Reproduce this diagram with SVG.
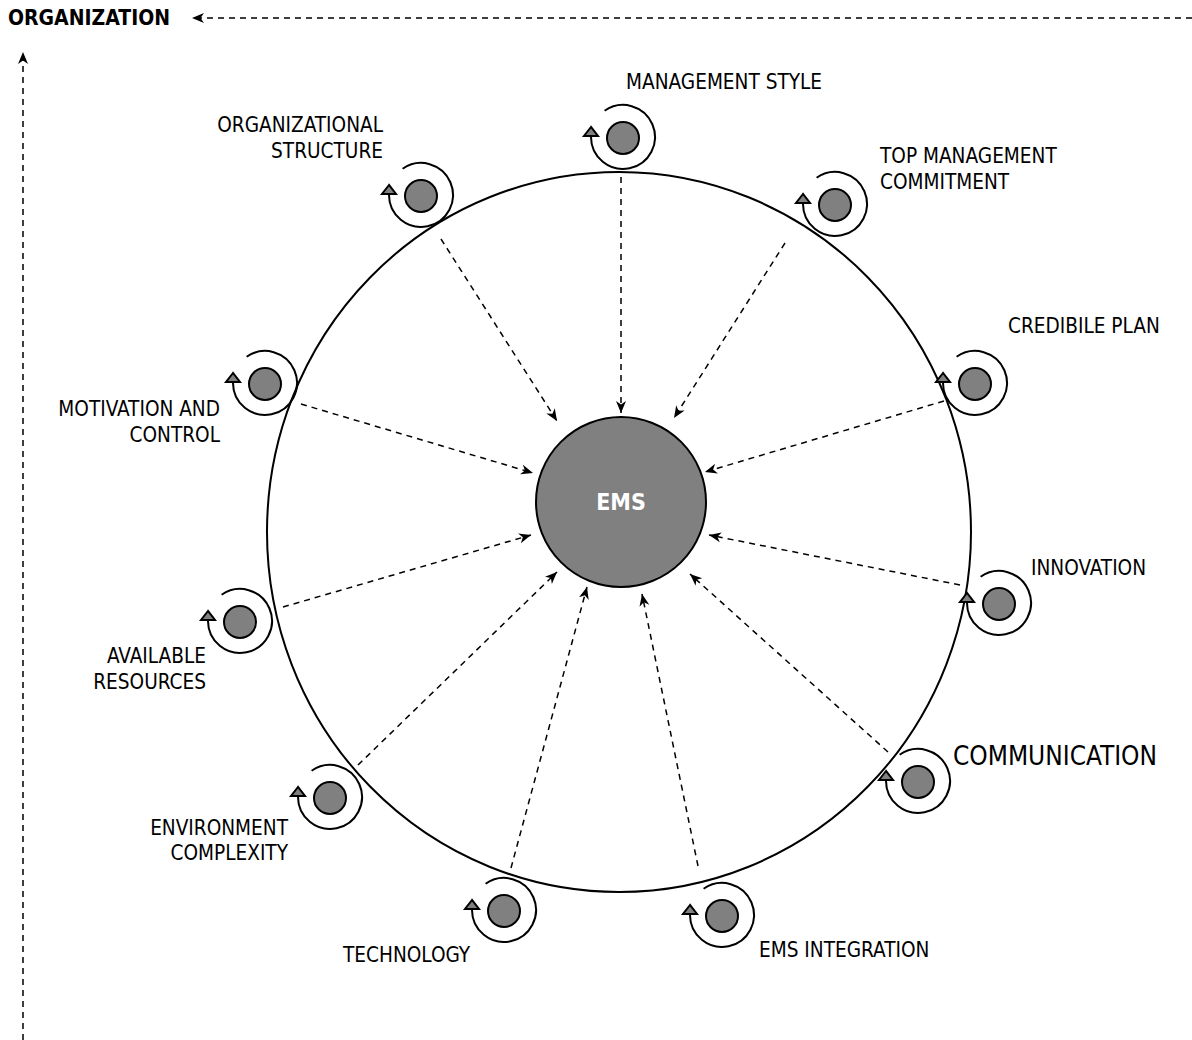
<svg xmlns="http://www.w3.org/2000/svg" xmlns:xlink="http://www.w3.org/1999/xlink" width="1192" height="1040" viewBox="0 0 1192 1040">
<style>
.lbl{font-family:"DejaVu Sans Condensed","DejaVu Sans",sans-serif;font-stretch:condensed;font-size:20.6px;fill:#000}
.big{font-size:26px}
.bold{font-weight:bold}
.org{font-size:21px}
.dash{fill:none;stroke:#000;stroke-width:1.5;stroke-dasharray:6 5}
.ring{fill:none;stroke:#000;stroke-width:2}
.dot{fill:#808080;stroke:#000;stroke-width:2}
</style>
<defs>
<marker id="ah" markerUnits="userSpaceOnUse" markerWidth="13" markerHeight="12" refX="12" refY="6" orient="auto">
<path d="M0,1 L12,6 L0,11 L3.5,6 Z" fill="#000"/>
</marker>
<g id="icon">
<path class="ring" d="M-18.4,-27.2 A32,32 0 1 1 -32,-1"/>
<path class="dot" d="M-32,-11 L-39,-2 L-25,-2 Z" stroke-width="1.5"/>
<circle class="dot" cx="0" cy="0" r="16"/>
</g>
</defs>
<rect width="1192" height="1040" fill="#fff"/>
<ellipse cx="619" cy="532" rx="352" ry="360" fill="none" stroke="#000" stroke-width="2"/>
<g id="connectors">
<path class="dash" d="M1192,18 L192,18" marker-end="url(#ah)"/>
<path class="dash" d="M23,1040 L23,52" marker-end="url(#ah)"/>
<path class="dash" d="M621,177 L621,413" marker-end="url(#ah)"/>
<path class="dash" d="M441,239 L557,421" marker-end="url(#ah)"/>
<path class="dash" d="M785,243 L674,418" marker-end="url(#ah)"/>
<path class="dash" d="M944,401 L705,472" marker-end="url(#ah)"/>
<path class="dash" d="M960,585 L709,535" marker-end="url(#ah)"/>
<path class="dash" d="M888,752 L690,574" marker-end="url(#ah)"/>
<path class="dash" d="M698,866 L642,594" marker-end="url(#ah)"/>
<path class="dash" d="M511,868 L587,587" marker-end="url(#ah)"/>
<path class="dash" d="M358,765 L557,572" marker-end="url(#ah)"/>
<path class="dash" d="M283,607 L531,535" marker-end="url(#ah)"/>
<path class="dash" d="M301,404 L533,473" marker-end="url(#ah)"/>
</g>
<g id="organization"><text class="lbl bold org" x="8" y="25">ORGANIZATION</text></g>
<g id="ems">
<circle class="dot" cx="621" cy="502" r="85"/>
<text class="lbl bold" x="621" y="510" text-anchor="middle" style="fill:#fff;font-size:23px">EMS</text>
</g>
<g id="management-style"><use xlink:href="#icon" x="623" y="138"/><text class="lbl" x="626" y="89">MANAGEMENT STYLE</text></g>
<g id="organizational-structure"><use xlink:href="#icon" x="421" y="196"/><text class="lbl" text-anchor="end" x="383" y="132">ORGANIZATIONAL</text><text class="lbl" text-anchor="end" x="383" y="158">STRUCTURE</text></g>
<g id="top-management"><use xlink:href="#icon" x="835" y="205"/><text class="lbl" x="880" y="163">TOP MANAGEMENT</text><text class="lbl" x="880" y="189">COMMITMENT</text></g>
<g id="credibile-plan"><use xlink:href="#icon" x="975" y="384"/><text class="lbl" x="1008" y="333">CREDIBILE PLAN</text></g>
<g id="innovation"><use xlink:href="#icon" x="999" y="604"/><text class="lbl" x="1031" y="575">INNOVATION</text></g>
<g id="communication"><use xlink:href="#icon" x="918" y="782"/><text class="lbl big" x="953" y="765">COMMUNICATION</text></g>
<g id="ems-integration"><use xlink:href="#icon" x="722" y="916"/><text class="lbl" x="759" y="957">EMS INTEGRATION</text></g>
<g id="technology"><use xlink:href="#icon" x="504" y="911"/><text class="lbl" x="343" y="962">TECHNOLOGY</text></g>
<g id="environment-complexity"><use xlink:href="#icon" x="330" y="798"/><text class="lbl" text-anchor="end" x="288" y="835">ENVIRONMENT</text><text class="lbl" text-anchor="end" x="288" y="860">COMPLEXITY</text></g>
<g id="available-resources"><use xlink:href="#icon" x="240" y="622"/><text class="lbl" text-anchor="end" x="206" y="663">AVAILABLE</text><text class="lbl" text-anchor="end" x="206" y="689">RESOURCES</text></g>
<g id="motivation-control"><use xlink:href="#icon" x="265" y="384"/><text class="lbl" text-anchor="end" x="220" y="416">MOTIVATION AND</text><text class="lbl" text-anchor="end" x="220" y="442">CONTROL</text></g>
</svg>
